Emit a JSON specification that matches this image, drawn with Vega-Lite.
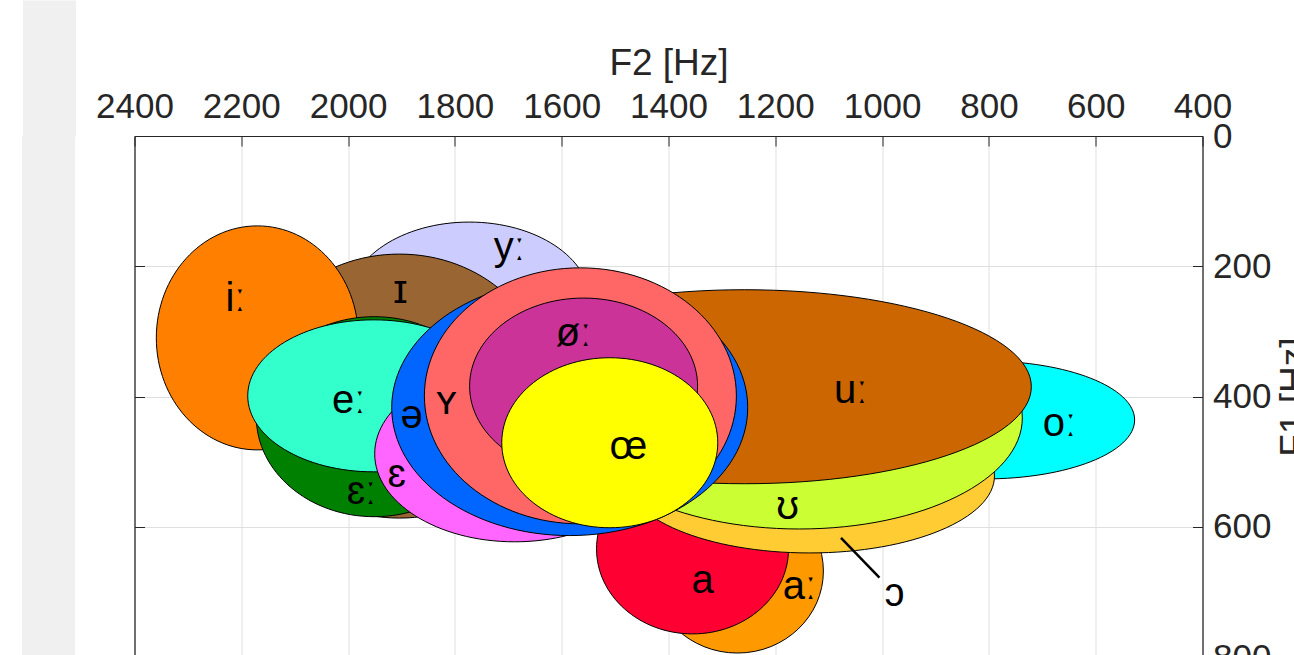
{
  "$schema": "https://vega.github.io/schema/vega-lite/v6.json",
  "background": "white",
  "padding": {"left": 22, "top": -27, "right": 0, "bottom": 0},
  "spacing": 18.5,
  "config": {
    "view": {"stroke": "#262626", "strokeWidth": 1},
    "axis": {
      "labelFont": "Liberation Sans", "labelFontSize": 35, "labelColor": "#262626",
      "titleFont": "Liberation Sans", "titleFontSize": 37, "titleFontWeight": "normal", "titleColor": "#262626",
      "domainColor": "#262626", "tickColor": "#262626", "gridColor": "#dfdfdf", "gridWidth": 1
    }
  },
  "hconcat": [
    {
      "width": 53,
      "height": 700,
      "data": {"values": [{"v": 0}]},
      "mark": {"type": "point", "opacity": 0},
      "encoding": {
        "x": {"field": "v", "type": "quantitative", "scale": {"domain": [-1, 1]},
          "axis": {"orient": "top", "values": [0], "labels": false, "domain": false, "grid": false, "title": null, "tickSize": 136, "tickWidth": 53, "tickColor": "#f0f0f0", "tickCap": "butt"}}
      },
      "view": {"fill": "#f0f0f0", "stroke": null}
    },
    {
      "width": 1068,
      "height": 521,
      "data": {"values": [
        {"vowel": "aː", "F2": 1271, "F1": 668, "labelF2": 1155, "labelF1": 692},
        {"vowel": "a", "F2": 1355, "F1": 634, "labelF2": 1336, "labelF1": 684},
        {"vowel": "oː", "F2": 808, "F1": 436, "labelF2": 668, "labelF1": 442},
        {"vowel": "ɔ", "F2": 1136, "F1": 522, "labelF2": 977, "labelF1": 703},
        {"vowel": "ʊ", "F2": 1155, "F1": 433, "labelF2": 1177, "labelF1": 569},
        {"vowel": "uː", "F2": 1258, "F1": 385, "labelF2": 1059, "labelF1": 392},
        {"vowel": "yː", "F2": 1773, "F1": 255, "labelF2": 1698, "labelF1": 172},
        {"vowel": "ɪ", "F2": 1904, "F1": 384, "labelF2": 1902, "labelF1": 238},
        {"vowel": "iː", "F2": 2170, "F1": 310, "labelF2": 2211, "labelF1": 250},
        {"vowel": "ɛː", "F2": 1951, "F1": 431, "labelF2": 1975, "labelF1": 546},
        {"vowel": "eː", "F2": 1952, "F1": 399, "labelF2": 1999, "labelF1": 407},
        {"vowel": "ɛ", "F2": 1688, "F1": 488, "labelF2": 1909, "labelF1": 520},
        {"vowel": "ə", "F2": 1585, "F1": 417, "labelF2": 1881, "labelF1": 430},
        {"vowel": "ʏ", "F2": 1565, "F1": 399, "labelF2": 1816, "labelF1": 408},
        {"vowel": "øː", "F2": 1559, "F1": 384, "labelF2": 1578, "labelF1": 304},
        {"vowel": "œ", "F2": 1510, "F1": 471, "labelF2": 1475, "labelF1": 477}
      ]},
      "resolve": {"axis": {"y": "independent"}},
      "layer": [
        {
          "mark": {"type": "point", "filled": true, "size": 4, "opacity": 1, "stroke": "black", "strokeWidth": 1},
          "encoding": {
            "x": {"field": "F2", "type": "quantitative",
              "scale": {"domain": [400, 2400], "reverse": true, "nice": false, "zero": false},
              "axis": {"orient": "top", "values": [400, 600, 800, 1000, 1200, 1400, 1600, 1800, 2000, 2200, 2400], "format": "d", "title": "F2 [Hz]", "titlePadding": 7, "tickSize": -10, "labelPadding": 22, "labelFlush": false, "labelOverlap": false, "grid": true}},
            "y": {"field": "F1", "type": "quantitative",
              "scale": {"domain": [0, 800], "reverse": true, "nice": false, "zero": false},
              "axis": {"orient": "right", "values": [0, 200, 400, 600, 800], "format": "d", "title": "F1 [Hz]", "titleAngle": 270, "titleBaseline": "top", "titlePadding": 6, "tickSize": -10, "labelPadding": 20, "labelFlush": false, "labelOverlap": false, "grid": true}},
            "fill": {"field": "vowel", "type": "nominal", "legend": null,
              "scale": {
                "domain": ["aː", "a", "oː", "ɔ", "ʊ", "uː", "yː", "ɪ", "iː", "ɛː", "eː", "ɛ", "ə", "ʏ", "øː", "œ"],
                "range": ["#FF9900", "#FF0033", "#00FFFF", "#FFCC33", "#CCFF33", "#CC6600", "#CCCCFF", "#996633", "#FF8000", "#008000", "#33FFCC", "#FF66FF", "#0066FF", "#FF6666", "#CC3399", "#FFFF00"]
              }},
            "shape": {"field": "vowel", "type": "nominal", "legend": null,
              "scale": {
                "domain": ["aː", "a", "oː", "ɔ", "ʊ", "uː", "yː", "ɪ", "iː", "ɛː", "eː", "ɛ", "ə", "ʏ", "øː", "œ"],
                "range": [
                  "M -86,0 A 86,82 0 1,0 86,0 A 86,82 0 1,0 -86,0 Z",
                  "M -96,0 A 96,85 0 1,0 96,0 A 96,85 0 1,0 -96,0 Z",
                  "M -150,0 A 150,59 0 1,0 150,0 A 150,59 0 1,0 -150,0 Z",
                  "M -185,0 A 185,77 0 1,0 185,0 A 185,77 0 1,0 -185,0 Z",
                  "M -223,0 A 223,111 0 1,0 223,0 A 223,111 0 1,0 -223,0 Z",
                  "M -287,0 A 287,97 0 1,0 287,0 A 287,97 0 1,0 -287,0 Z",
                  "M -121,0 A 121,80 0 1,0 121,0 A 121,80 0 1,0 -121,0 Z",
                  "M -148,0 A 148,132 0 1,0 148,0 A 148,132 0 1,0 -148,0 Z",
                  "M -101,0 A 101,112 0 1,0 101,0 A 101,112 0 1,0 -101,0 Z",
                  "M -118,0 A 118,100 0 1,0 118,0 A 118,100 0 1,0 -118,0 Z",
                  "M -126,0 A 126,76 0 1,0 126,0 A 126,76 0 1,0 -126,0 Z",
                  "M -140,0 A 140,88 0 1,0 140,0 A 140,88 0 1,0 -140,0 Z",
                  "M -178,0 A 178,128 0 1,0 178,0 A 178,128 0 1,0 -178,0 Z",
                  "M -156,0 A 156,128 0 1,0 156,0 A 156,128 0 1,0 -156,0 Z",
                  "M -114,0 A 114,88 0 1,0 114,0 A 114,88 0 1,0 -114,0 Z",
                  "M -108,0 A 108,85 0 1,0 108,0 A 108,85 0 1,0 -108,0 Z"
                ]
              }}
          }
        },
        {
          "mark": {"type": "text", "fontSize": 40, "font": "Liberation Sans", "color": "black", "baseline": "middle", "align": "center"},
          "encoding": {
            "x": {"field": "labelF2", "type": "quantitative",
              "axis": {"orient": "top", "values": [400, 600, 800, 1000, 1200, 1400, 1600, 1800, 2000, 2200, 2400], "format": "d", "title": "F2 [Hz]", "titlePadding": 7, "tickSize": -10, "labelPadding": 22, "labelFlush": false, "labelOverlap": false, "grid": true}},
            "y": {"field": "labelF1", "type": "quantitative",
              "axis": {"orient": "left", "values": [0, 200, 400, 600, 800], "labels": false, "title": null, "grid": false, "tickSize": -10, "domain": true}},
            "text": {"field": "vowel", "type": "nominal"}
          }
        },
        {
          "data": {"values": [{"F2": 1077, "F1": 617, "F2end": 1005, "F1end": 678}]},
          "mark": {"type": "rule", "strokeWidth": 2.5, "color": "black"},
          "encoding": {
            "x": {"field": "F2", "type": "quantitative",
              "axis": {"orient": "top", "values": [400, 600, 800, 1000, 1200, 1400, 1600, 1800, 2000, 2200, 2400], "format": "d", "title": "F2 [Hz]", "titlePadding": 7, "tickSize": -10, "labelPadding": 22, "labelFlush": false, "labelOverlap": false, "grid": true}},
            "y": {"field": "F1", "type": "quantitative", "axis": null},
            "x2": {"field": "F2end"},
            "y2": {"field": "F1end"}
          }
        }
      ]
    }
  ]
}
